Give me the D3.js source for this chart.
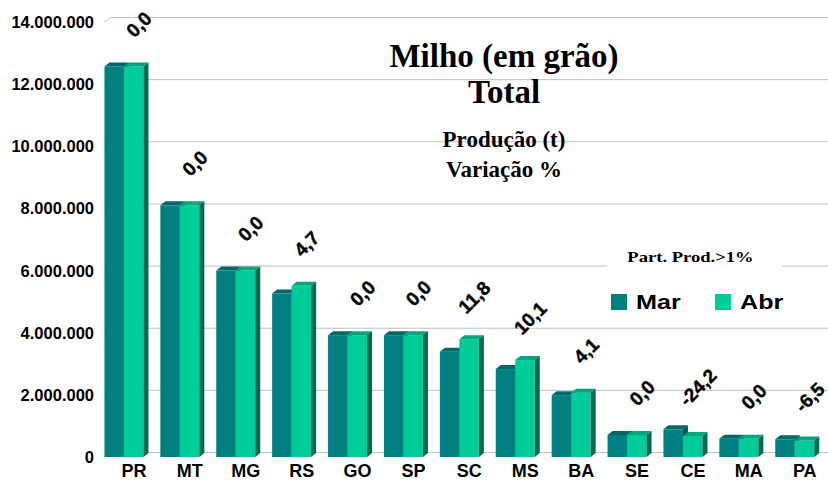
<!DOCTYPE html>
<html>
<head>
<meta charset="utf-8">
<script src="https://cdn.jsdelivr.net/npm/d3@7"></script>
<style>
  body { margin: 0; background: #fff; }
  svg { display: block; }
</style>
</head>
<body>
<div id="chart"></div>
<script>
const categorias = ["PR", "MT", "MG", "RS", "GO", "SP", "SC", "MS", "BA", "SE", "CE", "MA", "PA"];
const serieNomes = ["Mar", "Abr"];
const mar = [12570000, 8100000, 6000000, 5260000, 3920000, 3920000, 3390000, 2830000, 1990000, 710000, 890000, 590000, 570000];
const abr = [12570000, 8100000, 6000000, 5510000, 3920000, 3920000, 3790000, 3120000, 2070000, 710000, 675000, 590000, 533000];
const variacao = ["0,0", "0,0", "0,0", "4,7", "0,0", "0,0", "11,8", "10,1", "4,1", "0,0", "-24,2", "0,0", "-6,5"];
const yTicks = [0, 2000000, 4000000, 6000000, 8000000, 10000000, 12000000, 14000000];

const width = 828;
const height = 480;
const depth = { dx: 5, dy: -4 };      // bar depth
const wall = { dx: 6, dy: -4.5 };     // back wall offset
const colors = { Mar: "#008080", Abr: "#00cc99" };
const topColors = { Mar: "#006868", Abr: "#00a67c" };
const sideColors = { Mar: "#005454", Abr: "#006b4f" };

const ptBR = d3.formatLocale({ decimal: ",", thousands: ".", grouping: [3], currency: ["", ""] });
const fmt = ptBR.format(",");

const svg = d3.select("#chart")
    .append("svg")
    .attr("width", width)
    .attr("height", height);

const x = d3.scaleBand()
    .domain(categorias)
    .range([96, 822.7]);

const xSub = d3.scaleBand()
    .domain(serieNomes)
    .range([0, 39]);

const y = d3.scaleLinear()
    .domain([0, 14000000])
    .range([457, 22]);

const cx = c => x(c) + x.bandwidth() / 2;

// Gridlines on the back wall
const wallLeft = 104.5;
svg.selectAll(".grid")
    .data(yTicks)
    .join("path")
    .attr("class", "grid")
    .attr("d", d => `M${wallLeft},${y(d)} L${wallLeft + wall.dx},${y(d) + wall.dy} L${width},${y(d) + wall.dy}`)
    .attr("fill", "none")
    .attr("stroke", "#c0c0c0")
    .attr("stroke-width", 1);

// Y axis labels
svg.selectAll(".ylab")
    .data(yTicks)
    .join("text")
    .attr("x", 94)
    .attr("y", d => y(d))
    .attr("dy", "0.36em")
    .attr("text-anchor", "end")
    .attr("font-family", "Liberation Sans, Arial, sans-serif")
    .attr("font-weight", "bold")
    .attr("font-size", "16.5px")
    .attr("fill", "#000")
    .text(d => fmt(d));

// Legend background (drawn over gridlines)
svg.append("rect")
    .attr("x", 607)
    .attr("y", 236)
    .attr("width", 175)
    .attr("height", 86)
    .attr("fill", "#fff");

// Bars
const rows = categorias.map((c, i) => ({
    cat: c,
    values: [{ key: "Mar", v: mar[i] }, { key: "Abr", v: abr[i] }],
    label: variacao[i]
}));

const groups = svg.selectAll(".cat")
    .data(rows)
    .join("g")
    .attr("class", "cat")
    .attr("transform", d => `translate(${x(d.cat) + (x.bandwidth() - 39) / 2},0)`);

groups.each(function(d) {
    const g = d3.select(this);
    d.values.forEach(s => {
        const x0 = xSub(s.key);
        const x1 = x0 + xSub.bandwidth();
        const yt = y(s.v);
        const yb = y(0);
        g.append("rect")
            .attr("x", x0)
            .attr("y", yt)
            .attr("width", xSub.bandwidth())
            .attr("height", yb - yt)
            .attr("fill", colors[s.key]);
        g.append("path")
            .attr("d", `M${x0},${yt} L${x0 + depth.dx},${yt + depth.dy} L${x1 + depth.dx},${yt + depth.dy} L${x1},${yt} Z`)
            .attr("fill", topColors[s.key]);
        g.append("path")
            .attr("d", `M${x1},${yt} L${x1 + depth.dx},${yt + depth.dy} L${x1 + depth.dx},${yb + depth.dy} L${x1},${yb} Z`)
            .attr("fill", sideColors[s.key]);
    });
});

// Variation labels
svg.selectAll(".vlab")
    .data(rows)
    .join("text")
    .attr("class", "vlab")
    .attr("transform", d => {
        const top = y(d3.max(d.values, s => s.v));
        return `translate(${cx(d.cat) + 15},${top - 42}) rotate(-45)`;
    })
    .attr("dy", "0.35em")
    .attr("text-anchor", "middle")
    .attr("font-family", "Liberation Sans, Arial, sans-serif")
    .attr("font-weight", "bold")
    .attr("font-size", "19px")
    .attr("stroke", "#000")
    .attr("stroke-width", 0.4)
    .attr("fill", "#000")
    .text(d => d.label);

// X axis labels
svg.selectAll(".xlab")
    .data(categorias)
    .join("text")
    .attr("x", d => cx(d) + 10)
    .attr("y", 477)
    .attr("text-anchor", "middle")
    .attr("font-family", "Liberation Sans, Arial, sans-serif")
    .attr("font-weight", "bold")
    .attr("font-size", "18px")
    .attr("fill", "#000")
    .text(d => d);

// Titles
const titles = [
    { t: "Milho (em grão)", y: 66.7, size: 33 },
    { t: "Total", y: 102.7, size: 33 },
    { t: "Produção (t)", y: 146.7, size: 23 },
    { t: "Variação %", y: 176.7, size: 23 }
];
svg.selectAll(".title")
    .data(titles)
    .join("text")
    .attr("x", 504)
    .attr("y", d => d.y)
    .attr("text-anchor", "middle")
    .attr("font-family", "Liberation Serif, Times New Roman, serif")
    .attr("font-weight", "bold")
    .attr("font-size", d => d.size + "px")
    .attr("fill", "#000")
    .text(d => d.t);

// Legend
svg.append("text")
    .attr("transform", "translate(690.5,261.5) scale(1.2,1)")
    .attr("text-anchor", "middle")
    .attr("font-family", "Liberation Serif, Times New Roman, serif")
    .attr("font-weight", "bold")
    .attr("font-size", "15.5px")
    .attr("fill", "#000")
    .text("Part. Prod.>1%");

const legendX = d3.scalePoint()
    .domain(serieNomes)
    .range([611, 715]);

const leg = svg.selectAll(".leg")
    .data(serieNomes)
    .join("g")
    .attr("class", "leg")
    .attr("transform", d => `translate(${legendX(d)},294)`);

leg.append("rect")
    .attr("width", 16)
    .attr("height", 16)
    .attr("fill", d => colors[d]);

leg.append("text")
    .attr("transform", "translate(25,14.5) scale(1.2,1)")
    .attr("font-family", "Liberation Sans, Arial, sans-serif")
    .attr("font-weight", "bold")
    .attr("font-size", "21px")
    .attr("fill", "#000")
    .text(d => d);
</script>
</body>
</html>
